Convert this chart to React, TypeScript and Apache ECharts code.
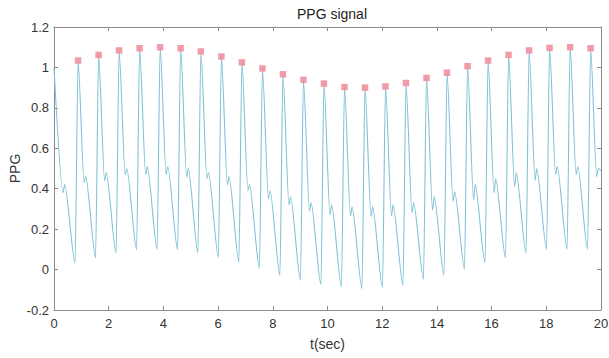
import React, { useEffect, useRef } from "react";
import * as echarts from "echarts";

// Peak times (s) and peak values (red square markers)
const PEAK_T = [0.88, 1.63, 2.38, 3.13, 3.88, 4.63, 5.37, 6.12, 6.87, 7.62, 8.37, 9.12, 9.87,
  10.62, 11.37, 12.12, 12.87, 13.62, 14.37, 15.12, 15.87, 16.62, 17.37, 18.12, 18.87, 19.62];
const PEAK_V = [1.034, 1.062, 1.084, 1.095, 1.1, 1.095, 1.079, 1.054, 1.025, 0.995, 0.966, 0.939, 0.92,
  0.903, 0.9, 0.906, 0.923, 0.948, 0.974, 1.006, 1.034, 1.062, 1.084, 1.097, 1.1, 1.095];
// Trough preceding each peak
const TROUGH_V = [0.033, 0.057, 0.082, 0.098, 0.1, 0.098, 0.083, 0.06, 0.036, 0.005, -0.03, -0.054, -0.074,
  -0.085, -0.095, -0.09, -0.079, -0.049, -0.028, 0.003, 0.033, 0.057, 0.082, 0.1, 0.1, 0.1];
// Dicrotic notch and following bump (index 0 = partial beat at t=0)
const NOTCH_V = [0.38, 0.43, 0.44, 0.47, 0.47, 0.47, 0.46, 0.45, 0.42, 0.39, 0.35, 0.32, 0.29, 0.27,
  0.266, 0.263, 0.266, 0.28, 0.295, 0.336, 0.345, 0.38, 0.41, 0.44, 0.47, 0.47, 0.46];
const BUMP_V = [0.42, 0.46, 0.48, 0.5, 0.51, 0.51, 0.5, 0.48, 0.46, 0.42, 0.39, 0.36, 0.33, 0.32,
  0.31, 0.31, 0.32, 0.33, 0.36, 0.385, 0.42, 0.45, 0.48, 0.5, 0.51, 0.51, 0.5];
const START_V = 1.0;
const END_V = 0.49;

const X_TICKS = [0, 2, 4, 6, 8, 10, 12, 14, 16, 18, 20];
const Y_TICKS = [-0.2, 0, 0.2, 0.4, 0.6, 0.8, 1, 1.2];

// shape offsets within a beat (s)
const RISE_DT = 0.11;
const NOTCH_DT = 0.22;
const BUMP_DT = 0.28;

function buildLine(): number[][] {
  const pts: number[][] = [];
  pts.push([0, START_V]);
  pts.push([RISE_DT + NOTCH_DT, NOTCH_V[0]]);
  pts.push([RISE_DT + BUMP_DT, BUMP_V[0]]);
  for (let i = 0; i < PEAK_T.length; i++) {
    const t = PEAK_T[i];
    pts.push([t - RISE_DT, TROUGH_V[i]]);
    pts.push([t, PEAK_V[i]]);
    pts.push([t + NOTCH_DT, NOTCH_V[i + 1]]);
    pts.push([t + BUMP_DT, BUMP_V[i + 1]]);
  }
  pts.push([X_TICKS[X_TICKS.length - 1], END_V]);
  return pts;
}

const FONT = "Liberation Sans, Arial, Helvetica, sans-serif";
const AXIS_COLOR = "#8a8a8a";
const TEXT_COLOR = "#333333";

export default function App() {
  const ref = useRef<HTMLDivElement>(null);
  useEffect(() => {
    if (!ref.current) return;
    const chart = echarts.init(ref.current, undefined, { renderer: "svg" });
    const xMin = X_TICKS[0];
    const xMax = X_TICKS[X_TICKS.length - 1];
    const yMin = Y_TICKS[0];
    const yMax = Y_TICKS[Y_TICKS.length - 1];
    const commonAxis = {
      axisLine: { show: true, onZero: false, lineStyle: { color: AXIS_COLOR, width: 1 } },
      axisTick: { show: true, inside: true, length: 4, lineStyle: { color: AXIS_COLOR } },
      splitLine: { show: false },
    };
    chart.setOption({
      animation: false,
      backgroundColor: "#ffffff",
      title: {
        text: "PPG signal",
        left: 327,
        top: 2,
        textAlign: "center",
        textStyle: { fontFamily: FONT, fontSize: 14, fontWeight: "normal", color: "#222" },
      },
      grid: { left: 54, right: 8, top: 27, bottom: 48, containLabel: false, outerBoundsMode: "none" },
      xAxis: [
        {
          type: "value",
          min: xMin,
          max: xMax,
          interval: 2,
          position: "bottom",
          name: "t(sec)",
          nameLocation: "middle",
          nameGap: 27,
          nameMoveOverlap: false,
          nameTextStyle: { fontFamily: FONT, fontSize: 14, color: TEXT_COLOR },
          axisLabel: { fontFamily: FONT, fontSize: 13, color: TEXT_COLOR, margin: 7 },
          ...commonAxis,
        },
        {
          type: "value",
          min: xMin,
          max: xMax,
          interval: 2,
          position: "top",
          axisLabel: { show: false },
          ...commonAxis,
        },
      ],
      yAxis: [
        {
          type: "value",
          min: yMin,
          max: yMax,
          interval: 0.2,
          position: "left",
          name: "PPG",
          nameLocation: "middle",
          nameGap: 32,
          nameMoveOverlap: false,
          nameRotate: 90,
          nameTextStyle: { fontFamily: FONT, fontSize: 14, color: TEXT_COLOR },
          axisLabel: {
            fontFamily: FONT,
            fontSize: 13,
            color: TEXT_COLOR,
            margin: 5,
            formatter: (v: number) => String(Math.round(v * 10) / 10),
          },
          ...commonAxis,
        },
        {
          type: "value",
          min: yMin,
          max: yMax,
          interval: 0.2,
          position: "right",
          axisLabel: { show: false },
          ...commonAxis,
        },
      ],
      series: [
        {
          type: "line",
          name: "PPG",
          xAxisIndex: 0,
          yAxisIndex: 0,
          data: buildLine(),
          showSymbol: false,
          symbol: "none",
          smooth: 0.25,
          smoothMonotone: "x",
          lineStyle: { color: "#80c2d5", width: 1.1 },
          z: 2,
        },
        {
          type: "scatter",
          name: "peaks",
          xAxisIndex: 0,
          yAxisIndex: 0,
          data: PEAK_T.map((t, i) => [t, PEAK_V[i]]),
          symbol: "rect",
          symbolSize: 6.5,
          itemStyle: { color: "#ef8395" },
          z: 3,
        },
      ],
    });
    return () => chart.dispose();
  }, []);
  return (
    <div
      ref={ref}
      style={{ position: "fixed", left: 0, top: 0, width: 609, height: 358, background: "#fff" }}
    />
  );
}
